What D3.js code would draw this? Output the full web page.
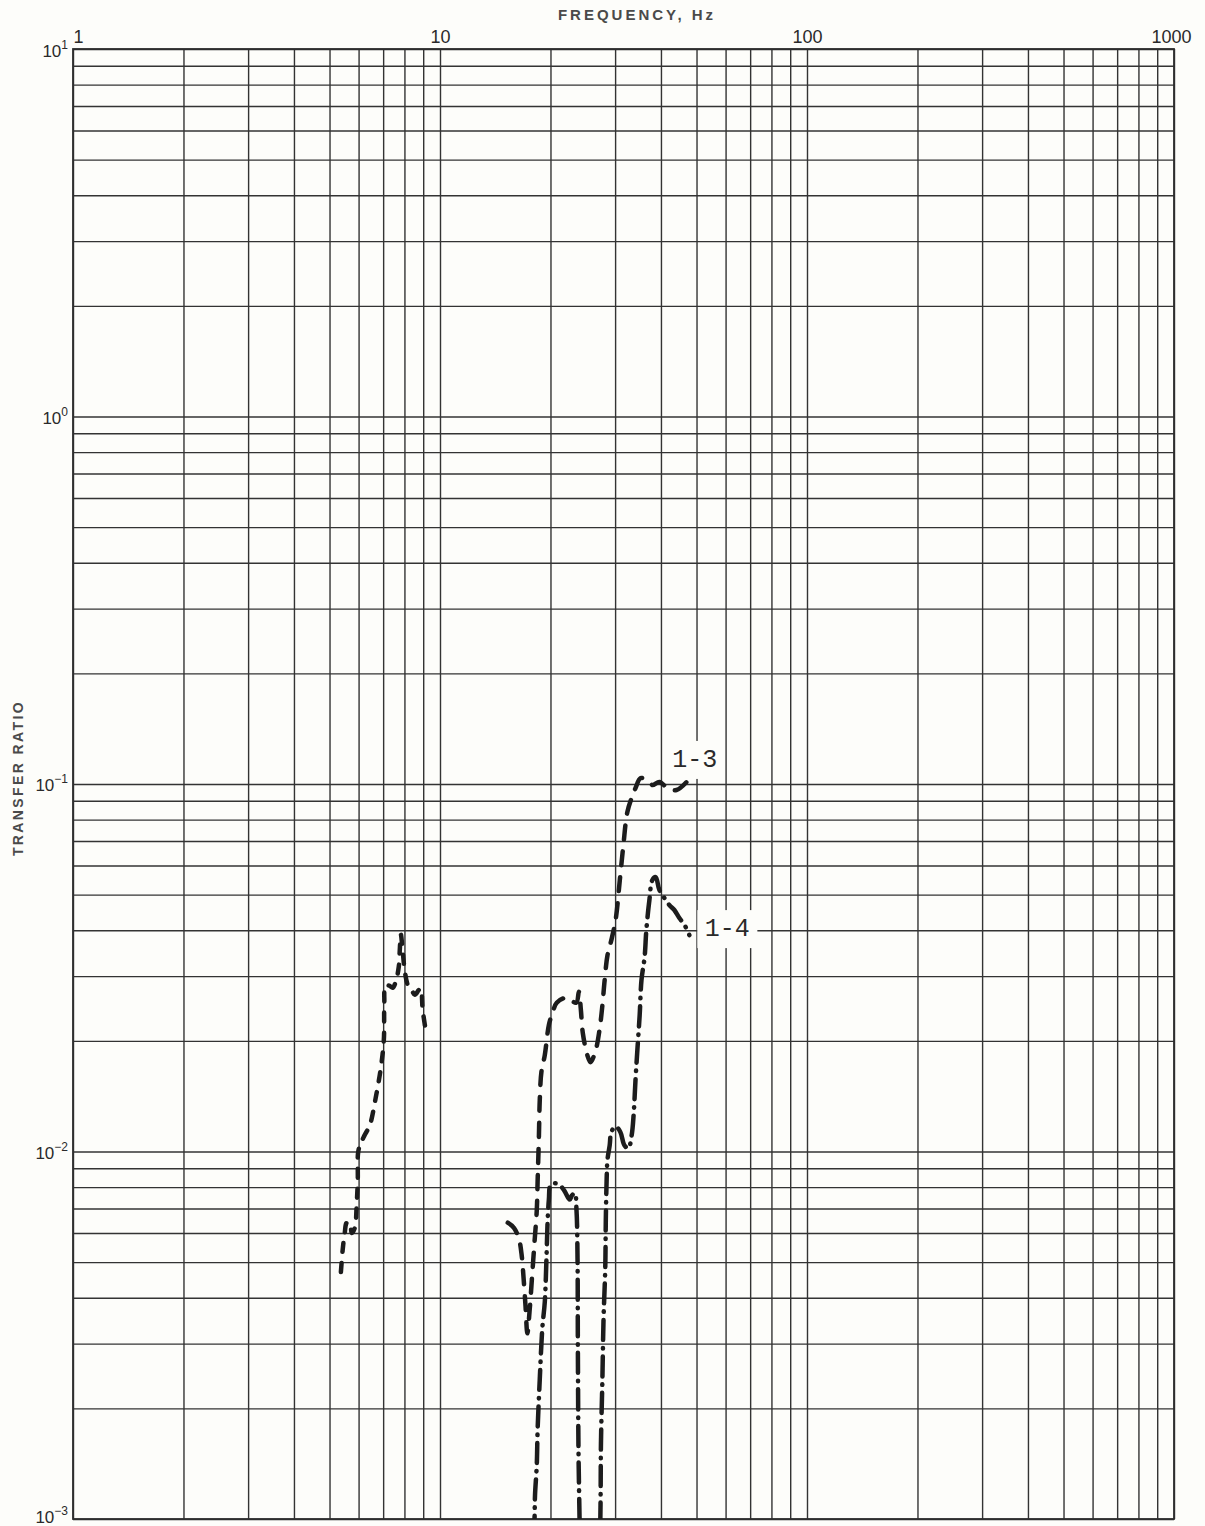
<!DOCTYPE html>
<html>
<head>
<meta charset="utf-8">
<script src="https://cdn.jsdelivr.net/npm/d3@7/dist/d3.min.js"></script>
<style>
  body { margin: 0; background: #fdfdfa; }
  svg { display: block; }
  .grid line { stroke: #333; stroke-width: 1.4; }
  .grid path { display: none; }
  .lbl { font-family: "Liberation Sans", Arial, sans-serif; fill: #2a2a2a; }
</style>
</head>
<body>
<div id="chart"></div>
<script>
// tick labels
const xTickValues = [1, 10, 100, 1000];
const xTickLabels = ["1", "10", "100", "1000"];
const yTickValues = [10, 1, 0.1, 0.01, 0.001];
const yTickExp = ["1", "0", "\u22121", "\u22122", "\u22123"];

// curves: [frequency Hz, transfer ratio]
const curveLow = [[5.37,0.0047],[5.43,0.0054],[5.50,0.0060],[5.57,0.0064],[5.68,0.0064],[5.75,0.0060],[5.86,0.0062],
  [5.93,0.0072],[5.97,0.0084],[5.98,0.0099],[6.05,0.0104],[6.24,0.0111],[6.44,0.0118],[6.68,0.0140],[6.90,0.0169],
  [7.03,0.0201],[7.05,0.0251],[7.11,0.0284],[7.30,0.0282],[7.43,0.0279],[7.57,0.0289],[7.72,0.0318],[7.77,0.0353],
  [7.82,0.0390],[7.91,0.0353],[8.01,0.0312],[8.17,0.0284],[8.37,0.0275],[8.54,0.0267],[8.75,0.0275],[8.86,0.0278],
  [8.97,0.0243],[9.14,0.0214]];

const curve13 = [[15.3,0.0064],[15.9,0.0062],[16.4,0.0058],[16.7,0.0052],[16.9,0.0045],[17.1,0.0038],[17.3,0.0032],
  [17.55,0.0037],[17.8,0.0045],[18.1,0.0057],[18.35,0.0069],[18.45,0.0083],[18.6,0.0110],[18.7,0.0138],[18.9,0.0165],
  [19.3,0.0183],[19.8,0.0221],[20.3,0.0240],[20.8,0.0254],[22.1,0.0262],[23.5,0.0254],[23.9,0.0272],[24.2,0.0243],
  [24.5,0.0210],[25.2,0.0183],[25.7,0.0175],[26.5,0.0187],[27.2,0.0214],[27.7,0.0250],[28.1,0.0293],[28.6,0.0342],
  [29.3,0.0376],[30.1,0.0427],[30.9,0.0548],[31.6,0.0682],[32.4,0.0839],[33.5,0.0933],[34.1,0.0975],[35.2,0.1038],
  [36.8,0.1019],[37.9,0.0994],[39.6,0.1013],[41.7,0.0975],[44.1,0.0963],[47.0,0.1013]];

const curve14 = [[18.0,0.0009],[18.1,0.00101],[18.15,0.00116],[18.35,0.0014],[18.45,0.00175],[18.7,0.0024],
  [19.0,0.0033],[19.3,0.0039],[19.5,0.0051],[19.65,0.0065],[19.8,0.0074],[20.0,0.0081],[20.5,0.0082],[21.2,0.0081],
  [21.85,0.0078],[22.55,0.0074],[22.9,0.0076],[23.3,0.0077],[23.55,0.0069],[23.7,0.0051],[23.75,0.0029],
  [23.85,0.0015],[24.0,0.00101],[24.1,0.0008],[27.2,0.0008],[27.35,0.00101],[27.4,0.0012],[27.45,0.0016],
  [27.7,0.0024],[27.9,0.0035],[28.2,0.0048],[28.3,0.0065],[28.45,0.0084],[28.6,0.0095],[29.0,0.0104],[29.3,0.0113],
  [30.1,0.0117],[31.0,0.0113],[31.8,0.0104],[32.6,0.0102],[33.3,0.0111],[33.7,0.0126],[34.1,0.0157],[34.5,0.0189],
  [35.0,0.0235],[35.4,0.0293],[36.1,0.0338],[36.5,0.0401],[37.2,0.0483],[37.9,0.0548],[38.7,0.0558],[39.6,0.0515],
  [40.9,0.0489],[42.2,0.0468],[43.5,0.0454],[44.9,0.0432],[46.4,0.0413],[47.8,0.0388]];

const seriesLabels = ["1-3", "1-4"];

const W = 1205, H = 1526;
const margin = {top: 49, right: 31, bottom: 7, left: 73};

const svg = d3.select("#chart").append("svg")
    .attr("width", W)
    .attr("height", H);

svg.append("rect").attr("width", W).attr("height", H).attr("fill", "#fdfdfa");

const x = d3.scaleLog()
    .domain([1, 1000])
    .range([margin.left, W - margin.right]);
const y = d3.scaleLog()
    .domain([0.001, 10])
    .range([H - margin.bottom, margin.top]);

const plotW = x.range()[1] - x.range()[0];
const plotH = y.range()[0] - y.range()[1];

// grid lines
svg.append("g")
    .attr("class", "grid")
    .attr("transform", `translate(0, ${margin.top})`)
    .call(d3.axisTop(x).tickSize(-plotH).tickFormat(""));

svg.append("g")
    .attr("class", "grid")
    .attr("transform", `translate(${margin.left}, 0)`)
    .call(d3.axisLeft(y).tickSize(-plotW).tickFormat(""));

svg.append("rect")
    .attr("x", margin.left).attr("y", margin.top)
    .attr("width", plotW).attr("height", plotH)
    .attr("fill", "none")
    .attr("stroke", "#2e2e2e")
    .attr("stroke-width", 1.8);

// frequency labels above the top edge
const xLab = svg.append("g")
    .attr("transform", `translate(0, ${margin.top})`)
    .call(d3.axisTop(x).tickValues(xTickValues).tickSize(0).tickPadding(6)
        .tickFormat((d, i) => xTickLabels[i]));
xLab.select(".domain").remove();
xLab.selectAll("text")
    .attr("class", "lbl")
    .style("font-size", "18px")
    .attr("dx", (d, i) => i == 0 ? 5 : i == 3 ? -3 : 0);

// ratio labels, 10 with superscript exponent
const yLab = svg.append("g");
yTickValues.forEach((v, i) => {
    const t = yLab.append("text")
        .attr("class", "lbl")
        .attr("x", margin.left - 5)
        .attr("y", y(v) + (i == 0 ? 8 : i == yTickValues.length - 1 ? 4 : 7))
        .attr("text-anchor", "end")
        .style("font-size", "17px");
    t.append("tspan").text("10");
    t.append("tspan").attr("dy", -8).style("font-size", "12px").text(yTickExp[i]);
});

svg.append("text")
    .attr("class", "lbl")
    .attr("x", 637)
    .attr("y", 20)
    .attr("text-anchor", "middle")
    .style("font-size", "15px")
    .style("letter-spacing", "3px")
    .style("font-weight", "bold")
    .style("fill", "#4a4a4a")
    .text("FREQUENCY, Hz");

svg.append("text")
    .attr("class", "lbl")
    .attr("text-anchor", "middle")
    .attr("transform", `translate(23, ${y(0.1) - 6}) rotate(-90)`)
    .style("font-size", "14px")
    .style("letter-spacing", "2.4px")
    .style("font-weight", "bold")
    .style("fill", "#4a4a4a")
    .text("TRANSFER RATIO");

// curves
svg.append("clipPath").attr("id", "plotClip")
  .append("rect")
    .attr("x", margin.left).attr("y", margin.top)
    .attr("width", plotW).attr("height", plotH);

const line = d3.line()
    .x(d => x(d[0]))
    .y(d => y(d[1]))
    .curve(d3.curveCatmullRom.alpha(0.5));

const curves = svg.append("g").attr("clip-path", "url(#plotClip)");

curves.append("path")
    .datum(curveLow)
    .attr("d", line)
    .attr("fill", "none")
    .attr("stroke", "#1c1c1c")
    .attr("stroke-width", 4.5)
    .attr("stroke-linecap", "round")
    .attr("stroke-dasharray", "9,11");

curves.append("path")
    .datum(curve13)
    .attr("d", line)
    .attr("fill", "none")
    .attr("stroke", "#1c1c1c")
    .attr("stroke-width", 4.5)
    .attr("stroke-linecap", "round")
    .attr("stroke-dasharray", "14,12");

curves.append("path")
    .datum(curve14)
    .attr("d", line)
    .attr("fill", "none")
    .attr("stroke", "#1c1c1c")
    .attr("stroke-width", 4.5)
    .attr("stroke-linecap", "round")
    .attr("stroke-dasharray", "20,8,0.5,8");

// series labels on white patches
[[curve13, 0, 8, -15], [curve14, 1, 38, 1]].forEach(([c, i, dx, dy]) => {
    const last = c[c.length - 1];
    const lx = x(last[0]) + dx, ly = y(last[1]) + dy;
    svg.append("rect")
        .attr("x", lx - 30).attr("y", ly - 26)
        .attr("width", 60).attr("height", 38)
        .attr("fill", "#fdfdfa");
    svg.append("text")
        .attr("x", lx).attr("y", ly)
        .attr("text-anchor", "middle")
        .style("font-family", "'Liberation Mono', 'DejaVu Sans Mono', monospace")
        .style("font-size", "25px")
        .attr("fill", "#2a2a2a")
        .text(seriesLabels[i]);
});
</script>
</body>
</html>
